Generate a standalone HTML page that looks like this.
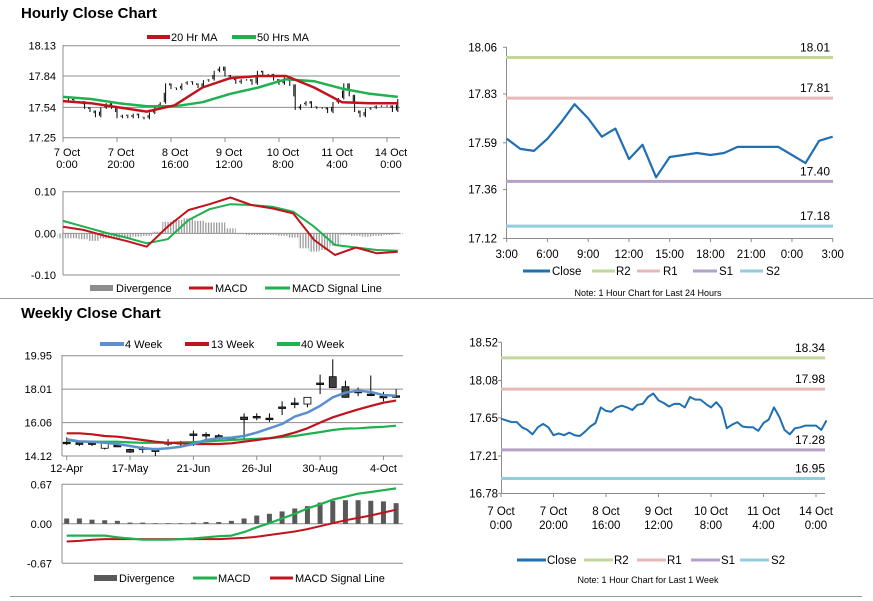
<!DOCTYPE html>
<html><head><meta charset="utf-8">
<style>
html,body{margin:0;padding:0;background:#fff;}
svg{display:block;font-family:"Liberation Sans",Arial,sans-serif;}
</style></head>
<body>
<svg id="root" width="873" height="601" viewBox="0 0 873 601" xmlns="http://www.w3.org/2000/svg">
<defs>
<pattern id="hatch" patternUnits="userSpaceOnUse" width="2.7" height="4"><rect x="0" y="0" width="1.3" height="4" fill="#9a9a9a"/></pattern>
</defs>
<text x="21" y="18" font-size="15" font-weight="bold" fill="#000">Hourly Close Chart</text>
<text x="21" y="318" font-size="15" font-weight="bold" fill="#000">Weekly Close Chart</text>
<line x1="0" y1="298.5" x2="873" y2="298.5" stroke="#999" stroke-width="1"/>
<line x1="10" y1="596.5" x2="862" y2="596.5" stroke="#999" stroke-width="1"/>
</svg>
<script>
// ---------- DATA ----------
const hourlyClose = [17.64,17.62,17.60,17.60,17.54,17.51,17.46,17.54,17.58,17.54,17.45,17.47,17.45,17.48,17.45,17.44,17.49,17.55,17.59,17.77,17.73,17.72,17.77,17.79,17.77,17.74,17.80,17.81,17.89,17.93,17.85,17.82,17.78,17.81,17.81,17.77,17.89,17.86,17.86,17.81,17.77,17.83,17.76,17.53,17.57,17.60,17.55,17.54,17.54,17.50,17.59,17.63,17.77,17.66,17.51,17.46,17.53,17.54,17.56,17.56,17.56,17.51,17.62];
const ma20 = [17.60,17.58,17.54,17.50,17.56,17.73,17.82,17.84,17.84,17.73,17.59,17.58,17.58];
const ma50 = [17.64,17.62,17.58,17.55,17.55,17.59,17.67,17.73,17.81,17.79,17.72,17.67,17.64];
const hMacd = [0.016,0.008,-0.006,-0.018,-0.032,0.016,0.056,0.070,0.086,0.068,0.060,0.048,-0.016,-0.052,-0.034,-0.048,-0.044];
const hSignal = [0.030,0.016,0.002,-0.010,-0.024,-0.014,0.032,0.058,0.070,0.068,0.064,0.052,0.016,-0.028,-0.034,-0.040,-0.042];
const hDiv = [-0.012,-0.012,-0.014,-0.018,-0.012,-0.012,-0.010,-0.008,-0.006,0.004,0.028,0.032,0.036,0.030,0.026,0.026,0.012,-0.002,-0.004,-0.004,-0.004,-0.006,-0.010,-0.036,-0.044,-0.040,-0.030,-0.004,-0.006,-0.008,-0.006,-0.004,-0.002];
const hPriceTicks = [18.13,17.84,17.54,17.25];
const hMacdTicks = [0.10,0.00,-0.10];
const hDateTicks = [["7 Oct","0:00"],["7 Oct","20:00"],["8 Oct","16:00"],["9 Oct","12:00"],["10 Oct","8:00"],["11 Oct","4:00"],["14 Oct","0:00"]];

const dayClose = [17.61,17.56,17.55,17.61,17.69,17.78,17.71,17.62,17.66,17.51,17.58,17.42,17.52,17.53,17.54,17.53,17.54,17.57,17.57,17.57,17.57,17.53,17.49,17.60,17.62];
const dayTicks = ["3:00","6:00","9:00","12:00","15:00","18:00","21:00","0:00","3:00"];
const dayYTicks = [18.06,17.83,17.59,17.36,17.12];
const dayLevels = [18.01,17.81,17.40,17.18];
const weekLevels = [18.34,17.98,17.28,16.95];
const weekYTicks = [18.52,18.08,17.65,17.21,16.78];
const levelNames = ["R2","R1","S1","S2"];

const wkOpen  = [14.92,14.88,14.88,14.57,14.74,14.50,14.59,14.47,14.90,14.90,15.40,15.37,15.30,15.17,16.38,16.42,16.32,16.97,17.20,17.14,18.36,18.73,18.15,17.88,17.72,17.59,17.62];
const wkClose = [14.88,14.86,14.86,14.96,14.72,14.35,14.57,14.45,14.88,14.88,15.36,15.33,15.26,15.13,16.24,16.38,16.28,16.93,17.16,17.53,18.32,18.10,17.53,17.84,17.68,17.55,17.58];
const wkHigh  = [15.20,14.95,14.90,14.96,14.80,14.55,14.70,14.60,15.10,15.00,15.60,15.50,15.40,15.25,16.60,16.60,16.60,17.30,17.50,17.55,18.85,19.74,18.50,18.10,18.80,17.85,18.00];
const wkLow   = [14.76,14.70,14.70,14.50,14.65,14.30,14.30,14.12,14.70,14.65,14.70,15.10,15.10,15.05,15.10,16.20,16.10,16.50,16.90,16.95,17.72,18.10,17.50,17.60,17.60,17.30,17.50];
const wk4  = [15.09,14.97,14.95,14.89,14.82,14.70,14.58,14.51,14.57,14.66,14.82,15.05,15.15,15.19,15.28,15.48,15.73,15.98,16.41,16.64,17.03,17.53,17.80,17.92,17.84,17.66,17.63];
const wk13 = [15.44,15.44,15.38,15.28,15.24,15.15,15.05,14.95,14.89,14.86,14.82,14.82,14.82,14.86,14.95,15.05,15.15,15.28,15.48,15.73,16.06,16.37,16.60,16.83,17.03,17.22,17.34];
const wk40 = [15.05,14.95,14.95,14.95,14.95,14.91,14.89,14.89,14.89,14.91,14.93,14.97,15.01,15.05,15.09,15.12,15.16,15.22,15.28,15.40,15.51,15.63,15.71,15.73,15.78,15.82,15.88];
const wDiv = [0.09,0.09,0.07,0.06,0.05,0.02,0.02,0.01,0.01,0.01,0.02,0.03,0.03,0.05,0.09,0.14,0.17,0.21,0.26,0.30,0.36,0.39,0.40,0.40,0.39,0.38,0.35];
const wMacd = [-0.20,-0.20,-0.20,-0.20,-0.23,-0.25,-0.27,-0.27,-0.27,-0.26,-0.25,-0.23,-0.21,-0.20,-0.14,-0.06,0.01,0.09,0.17,0.26,0.33,0.41,0.46,0.51,0.54,0.57,0.60];
const wSignal = [-0.30,-0.29,-0.27,-0.26,-0.26,-0.26,-0.26,-0.26,-0.26,-0.26,-0.26,-0.26,-0.26,-0.25,-0.24,-0.22,-0.19,-0.16,-0.13,-0.09,-0.04,0.01,0.06,0.10,0.14,0.19,0.24];
const wPriceTicks = [19.95,18.01,16.06,14.12];
const wMacdTicks = [0.67,0.00,-0.67];
const wDateTicks = ["12-Apr","17-May","21-Jun","26-Jul","30-Aug","4-Oct"];

// ---------- HELPERS ----------
const NS = "http://www.w3.org/2000/svg";
const root = document.getElementById("root");
function mk(tag, attrs, name){
  const el = document.createElementNS(NS, tag);
  for (const k in attrs) el.setAttribute(k, attrs[k]);
  
  
  root.appendChild(el);
  return el;
}
function ln(x1,y1,x2,y2,c,w,name){ return mk("line",{x1:x1,y1:y1,x2:x2,y2:y2,stroke:c,"stroke-width":w},name); }
function tx(x,y,s,anchor,name,size){ const t=mk("text",{x:x,y:y,"font-size":size||11,"text-anchor":anchor||"start",fill:"#000"},name); t.textContent=s; return t; }
function poly(pts,c,w,name){ return mk("polyline",{points:pts.map(p=>p[0].toFixed(1)+","+p[1].toFixed(1)).join(" "),fill:"none",stroke:c,"stroke-width":w,"stroke-linejoin":"round"},name); }
function scale(d0,d1,r0,r1){ return v => r0+(v-d0)/(d1-d0)*(r1-r0); }
const RED="#c0141c", GREEN="#1fb050", BLUE="#1f6fb2", WBLUE="#5b8fcd";
const LVC=["#c3d69b","#e6b9b8","#b3a2c7","#93cddd"];

// ---------- HOURLY PRICE ----------
const hx = scale(0,120,63,387);
const hy = scale(18.13,17.25,45.7,137.7);
hPriceTicks.forEach((v,i)=>{
  ln(63,hy(v),400,hy(v),"#8c8c8c",1,"hourly-gridline");
  tx(56,hy(v)+4,v.toFixed(2),"end","hourly-y-tick");
});
ln(63,45,63,138,"#8c8c8c",1,"hourly-y-axis");
hDateTicks.forEach((d,i)=>{
  const x=hx(i*20);
  ln(x,138,x,142,"#8c8c8c",1,"hourly-x-tickmark");
  tx(x+4,156,d[0],"middle","hourly-x-tick-date");
  tx(x+4,168,d[1],"middle","hourly-x-tick-time");
});
hourlyClose.forEach((v,i)=>{
  if(i===0) return;
  const x=hx(i*2), p=hourlyClose[i-1];
  ln(x-1.35,hy(p),x-1.35,hy((p+v)/2),"#000",1,"hourly-candle");
  ln(x,hy(Math.max(p,v)),x,hy(Math.min(p,v))+1.5,"#000",1,"hourly-candle");
});
poly(ma50.map((v,i)=>[hx(i*124/12),hy(v)]),GREEN,2.5,"ma50-line");
poly(ma20.map((v,i)=>[hx(i*124/12),hy(v)]),RED,2.5,"ma20-line");
ln(147,37,170,37,RED,4,"legend-ma20-swatch"); tx(171,41,"20 Hr MA","start","legend-ma20");
ln(232,37,256,37,GREEN,4,"legend-ma50-swatch"); tx(257,41,"50 Hrs MA","start","legend-ma50");

// ---------- HOURLY MACD ----------
const my = scale(0.10,-0.10,191.7,275);
hMacdTicks.forEach(v=>{
  ln(63,my(v),400,my(v),"#8c8c8c",1,"hourly-macd-gridline");
  tx(56,my(v)+4,v.toFixed(2),"end","hourly-macd-y-tick");
});
ln(63,191,63,275,"#8c8c8c",1,"hourly-macd-y-axis");
hDiv.forEach((v,i)=>{
  const x=hx(i*124/32);
  mk("rect",{x:x-5.3,y:Math.min(my(v),my(0)),width:10.6,height:Math.abs(my(v)-my(0)),fill:"url(#hatch)"},"hourly-divergence-bar");
});
poly(hSignal.map((v,i)=>[hx(i*124/16),my(v)]),GREEN,2,"hourly-signal-line");
poly(hMacd.map((v,i)=>[hx(i*124/16),my(v)]),RED,2,"hourly-macd-line");
mk("rect",{x:90,y:285,width:23,height:6,fill:"#8c8c8c"},"legend-divergence-swatch"); tx(116,292,"Divergence","start","legend-divergence");
ln(189,288,213,288,RED,3,"legend-macd-swatch"); tx(215,292,"MACD","start","legend-macd");
ln(265,288,290,288,GREEN,3,"legend-signal-swatch"); tx(292,292,"MACD Signal Line","start","legend-signal");

// ---------- DAY (24h) CHART ----------
const rx = scale(0,24,506.7,832.7);
const ry = scale(18.06,17.12,47.3,238.3);
ln(506.5,47,506.5,238,"#8c8c8c",1,"day-y-axis");
ln(506,238.5,833,238.5,"#8c8c8c",1,"day-x-axis");
dayYTicks.forEach(v=>{ ln(503,ry(v),507,ry(v),"#8c8c8c",1,"day-y-tickmark"); tx(497,ry(v)+4,v.toFixed(2),"end","day-y-tick",11.5); });
dayTicks.forEach((s,i)=>{ const x=rx(i*3); ln(x,238,x,242,"#8c8c8c",1,"day-x-tickmark"); tx(x,258,s,"middle","day-x-tick",11.5); });
dayLevels.forEach((v,i)=>{ ln(506,ry(v),833,ry(v),LVC[i],3,"day-level-"+levelNames[i].toLowerCase()); tx(830,ry(v)-6,v.toFixed(2),"end","day-level-label",12); });
poly(dayClose.map((v,i)=>[rx(i),ry(v)]),BLUE,2.2,"day-close-line");
const legX=[[523,550,552],[592,615,616],[637,660,663],[693,717,719],[740,763,766]];
const legN=["Close","R2","R1","S1","S2"], legC=[BLUE,LVC[0],LVC[1],LVC[2],LVC[3]];
legX.forEach((l,i)=>{ ln(l[0],271,l[1],271,legC[i],3,"day-legend-swatch"); tx(l[2],275,legN[i],"start","day-legend-"+legN[i].toLowerCase(),11.5); });
tx(648,296,"Note: 1 Hour Chart for Last 24 Hours","middle","day-note",9);

// ---------- WEEK (hourly line) CHART ----------
const bx = scale(0,120,501,816);
const by = scale(18.52,16.78,342.3,493.3);
ln(501.5,342,501.5,493,"#8c8c8c",1,"week-y-axis");
ln(501,493.5,825,493.5,"#8c8c8c",1,"week-x-axis");
weekYTicks.forEach(v=>{ ln(498,by(v),502,by(v),"#8c8c8c",1,"week-y-tickmark"); tx(498,by(v)+4,v.toFixed(2),"end","week-y-tick",11.5); });
hDateTicks.forEach((d,i)=>{ const x=bx(i*20); ln(x,493,x,497,"#8c8c8c",1,"week-x-tickmark"); tx(x,515,d[0],"middle","week-x-tick-date",11.5); tx(x,529,d[1],"middle","week-x-tick-time",11.5); });
weekLevels.forEach((v,i)=>{ ln(501,by(v),825,by(v),LVC[i],3,"week-level-"+levelNames[i].toLowerCase()); tx(825,by(v)-6,v.toFixed(2),"end","week-level-label",12); });
poly(hourlyClose.map((v,i)=>[bx(i*2),by(v)]),BLUE,2,"week-close-line");
const legX2=[[517,546,547],[584,613,614],[637,666,667],[691,720,721],[740,769,771]];
legX2.forEach((l,i)=>{ ln(l[0],560,l[1],560,legC[i],3,"week-legend-swatch"); tx(l[2],564,legN[i],"start","week-legend-"+legN[i].toLowerCase(),11.5); });
tx(648,583,"Note: 1 Hour Chart for Last 1 Week","middle","week-note",9);

// ---------- WEEKLY CANDLES ----------
const wx = i => 66.7 + i*12.67;
const wy = scale(19.95,14.12,355.7,456);
wPriceTicks.forEach(v=>{ ln(62,wy(v),403,wy(v),"#8c8c8c",1,"weekly-gridline"); tx(52,wy(v)+4,v.toFixed(2),"end","weekly-y-tick"); });
ln(62,355,62,456,"#8c8c8c",1,"weekly-y-axis");
wDateTicks.forEach((s,i)=>{ const x=wx(i*5); ln(x,456,x,460,"#8c8c8c",1,"weekly-x-tickmark"); tx(x,472,s,"middle","weekly-x-tick"); });
wkOpen.forEach((o,i)=>{
  const c=wkClose[i], x=wx(i);
  ln(x,wy(wkHigh[i]),x,wy(wkLow[i]),"#000",1,"weekly-candle-wick");
  const top=wy(Math.max(o,c)), h=Math.max(1.5,Math.abs(wy(o)-wy(c)));
  mk("rect",{x:x-3.5,y:top,width:7,height:h,fill:c>o?"#fff":"#404040",stroke:"#000","stroke-width":0.8},"weekly-candle-body");
});
poly(wk40.map((v,i)=>[wx(i),wy(v)]),GREEN,2.2,"wk40-line");
poly(wk13.map((v,i)=>[wx(i),wy(v)]),RED,2.2,"wk13-line");
poly(wk4.map((v,i)=>[wx(i),wy(v)]),WBLUE,2.5,"wk4-line");
ln(100,344,124,344,WBLUE,4,"legend-wk4-swatch"); tx(125,348,"4 Week","start","legend-wk4");
ln(185,344,209,344,RED,4,"legend-wk13-swatch"); tx(211,348,"13 Week","start","legend-wk13");
ln(277,344,300,344,GREEN,4,"legend-wk40-swatch"); tx(301,348,"40 Week","start","legend-wk40");

// ---------- WEEKLY MACD ----------
const wmy = scale(0.67,-0.67,484.3,563.3);
wMacdTicks.forEach(v=>{ ln(62,wmy(v),403,wmy(v),"#8c8c8c",1,"weekly-macd-gridline"); tx(52,wmy(v)+4,v.toFixed(2),"end","weekly-macd-y-tick"); });
ln(62,484,62,563,"#8c8c8c",1,"weekly-macd-y-axis");
wDiv.forEach((v,i)=>{ const x=wx(i); mk("rect",{x:x-2.5,y:Math.min(wmy(v),wmy(0)),width:5,height:Math.max(0.5,Math.abs(wmy(v)-wmy(0))),fill:"#595959"},"weekly-divergence-bar"); });
poly(wSignal.map((v,i)=>[wx(i),wmy(v)]),RED,2,"weekly-signal-line");
poly(wMacd.map((v,i)=>[wx(i),wmy(v)]),GREEN,2.2,"weekly-macd-line");
mk("rect",{x:94,y:575,width:23,height:6,fill:"#595959"},"weekly-legend-divergence-swatch"); tx(119,582,"Divergence","start","weekly-legend-divergence");
ln(193,578,217,578,GREEN,3,"weekly-legend-macd-swatch"); tx(218,582,"MACD","start","weekly-legend-macd");
ln(270,578,293,578,RED,3,"weekly-legend-signal-swatch"); tx(295,582,"MACD Signal Line","start","weekly-legend-signal");
</script>
</body></html>
